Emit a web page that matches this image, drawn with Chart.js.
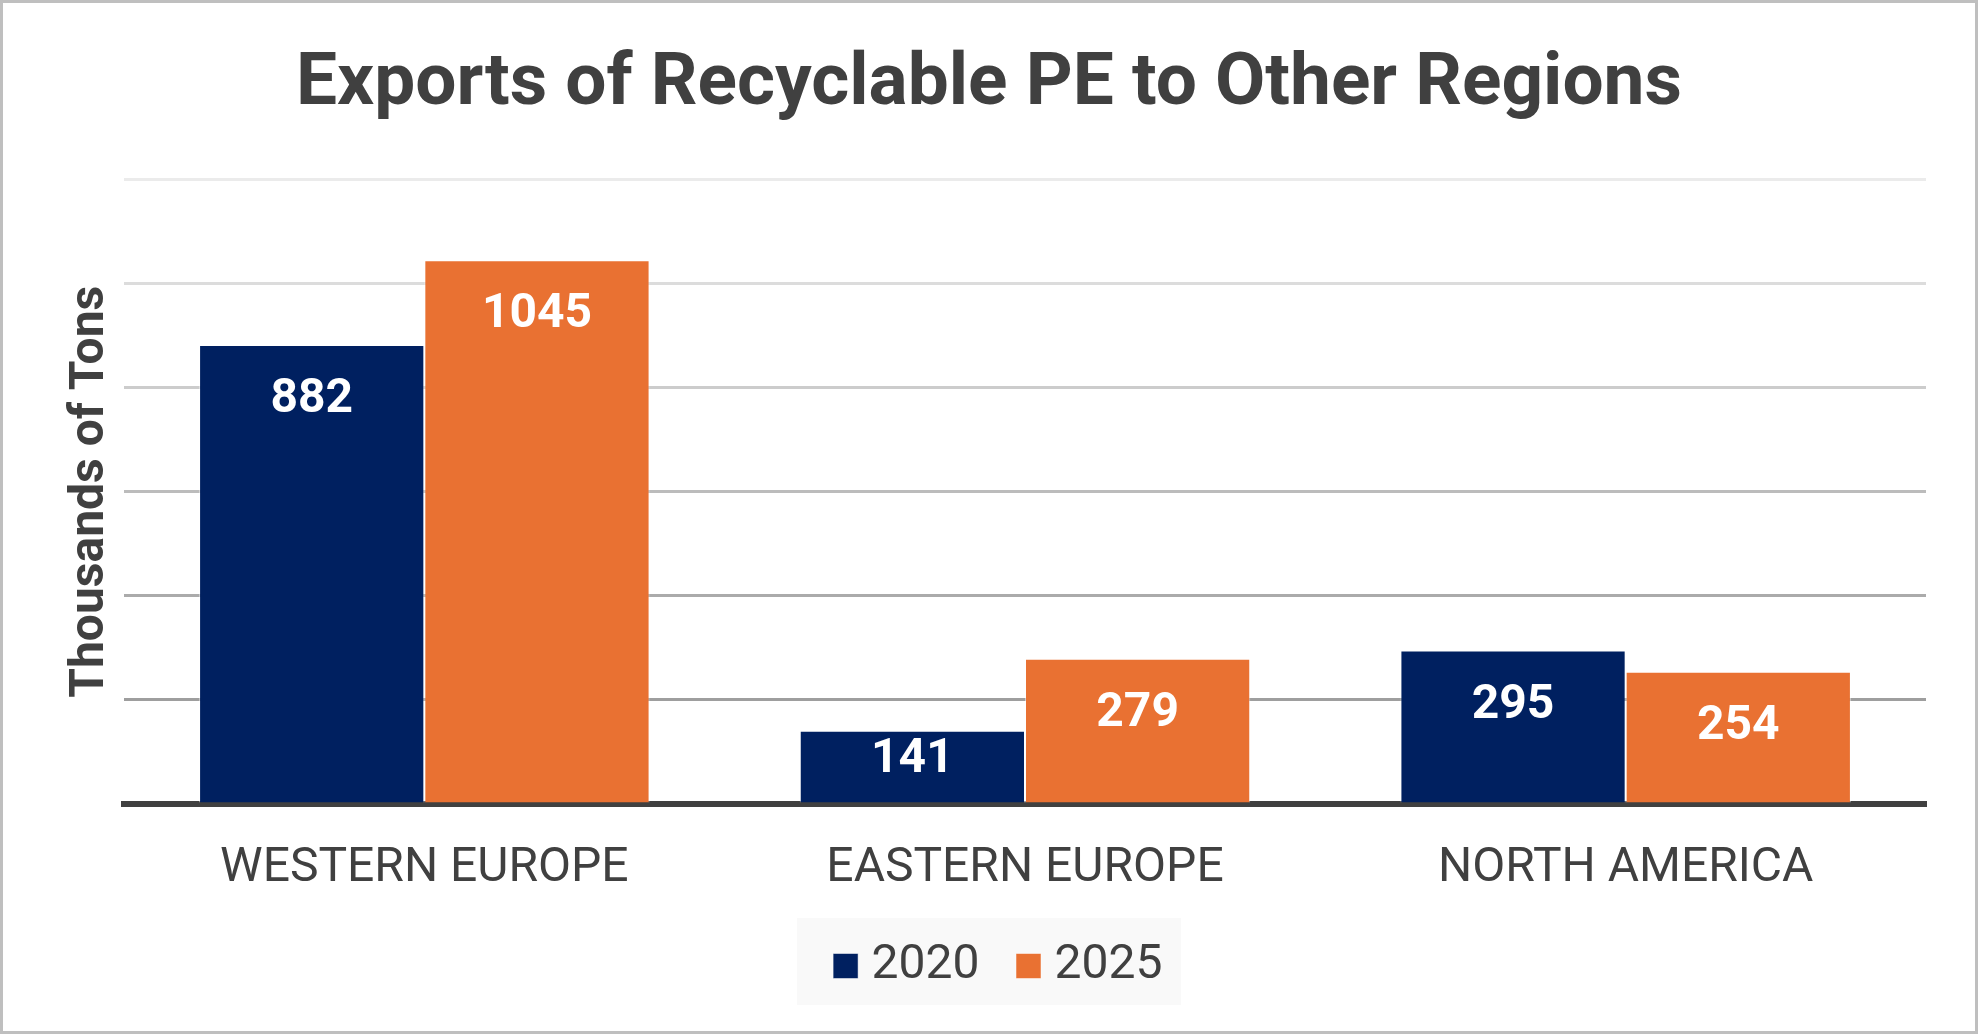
<!DOCTYPE html>
<html>
<head>
<meta charset="utf-8">
<script src="https://cdn.jsdelivr.net/npm/chart.js@4.4.0/dist/chart.umd.min.js"></script>
<style>
  html, body { margin: 0; padding: 0; background: #fff; }
  #wrap { width: 1978px; height: 1034px; position: relative; }
</style>
</head>
<body>
<div id="wrap"><canvas id="myChart"></canvas></div>
<script>
const regions = ['WESTERN EUROPE', 'EASTERN EUROPE', 'NORTH AMERICA'];
const years = ['2020', '2025'];
const exports2020 = [882, 141, 295];
const exports2025 = [1045, 279, 254];
const yTicks = [0, 200, 400, 600, 800, 1000, 1200];

// gridlines get darker towards the bottom, like the original
const gridColors = ['#9e9e9e', '#9e9e9e', '#ababab', '#bcbcbc', '#cccccc', '#dcdcdc', '#ebebeb'];

const ctx = document.getElementById('myChart');

const frame = {
  id: 'frame',
  afterLayout(chart) {
    // the legend entries sit a little right of centre in the original
    const lg = chart.legend;
    if (lg) { lg.left += 14; lg.right += 14; }
  },
  beforeDraw(chart) {
    const c = chart.ctx;
    c.save();
    c.fillStyle = '#fff';
    c.fillRect(0, 0, chart.width, chart.height);
    // legend background, centred on the page
    const lg = chart.legend;
    if (lg && lg.legendHitBoxes.length) {
      const first = lg.legendHitBoxes[0];
      const mid = chart.width / 2;
      c.fillStyle = '#f9f9f9';
      c.fillRect(mid - 192, first.top - 24, 384, 87);
    }
    c.strokeStyle = '#bfbfbf';
    c.lineWidth = 3;
    c.strokeRect(1.5, 1.5, chart.width - 3, chart.height - 3);
    c.restore();
  }
};

const barLabels = {
  id: 'barLabels',
  afterDatasetsDraw(chart) {
    const c = chart.ctx;
    c.save();
    c.fillStyle = '#ffffff';
    c.font = 'bold 48px Roboto';
    c.textAlign = 'center';
    c.textBaseline = 'middle';
    chart.data.datasets.forEach((ds, i) => {
      chart.getDatasetMeta(i).data.forEach((bar, j) => {
        const h = bar.base - bar.y;
        const off = Math.min(55, h / 2 - 7);
        c.fillText(ds.data[j], bar.x, bar.y + off);
      });
    });
    c.restore();
  }
};

new Chart(ctx, {
  type: 'bar',
  data: {
    labels: regions,
    datasets: [
      {
        label: years[0],
        data: exports2020,
        backgroundColor: '#002060',
        borderColor: 'rgba(255,255,255,0.5)',
        borderWidth: 1
      },
      {
        label: years[1],
        data: exports2025,
        backgroundColor: '#E97132',
        borderColor: 'rgba(255,255,255,0.5)',
        borderWidth: 1
      }
    ]
  },
  options: {
    responsive: true,
    maintainAspectRatio: false,
    animation: false,
    layout: { padding: { left: 0, right: 0, top: 0, bottom: 34 } },
    datasets: {
      bar: { categoryPercentage: 0.75, barPercentage: 1.0 }
    },
    plugins: {
      title: {
        display: true,
        text: 'Exports of Recyclable PE to Other Regions',
        color: '#404040',
        font: { family: 'Roboto', size: 73, weight: 'bold' },
        padding: { top: 42, bottom: 50 }
      },
      legend: {
        display: true,
        position: 'bottom',
        labels: {
          color: '#404040',
          font: { family: 'Roboto', size: 48 },
          // narrow box slot + square point style keeps the text close to the swatch
          usePointStyle: true,
          pointStyle: 'rect',
          boxWidth: 4,
          boxHeight: 25,
          padding: 47
        }
      },
      tooltip: { enabled: false }
    },
    scales: {
      x: {
        z: 1,
        grid: { display: false, drawTicks: false },
        border: { display: true, color: '#404040', width: 6 },
        ticks: {
          color: '#404040',
          font: { family: 'Roboto', size: 48 },
          padding: 36
        },
        afterFit(scale) {
          scale.height = 91;
        }
      },
      y: {
        min: yTicks[0],
        max: yTicks[yTicks.length - 1],
        afterBuildTicks(scale) {
          scale.ticks = yTicks.map(v => ({ value: v }));
        },
        afterFit(scale) {
          scale.width = 124;
        },
        ticks: { display: false },
        grid: {
          drawTicks: false,
          lineWidth: 3,
          color: c => gridColors[c.index]
        },
        border: { display: false },
        title: {
          display: true,
          text: 'Thousands of Tons',
          color: '#404040',
          font: { family: 'Roboto', size: 48, weight: 'bold' },
          padding: { top: 62, bottom: 0 }
        }
      },
      // empty right-hand margin so the title and legend stay centred on the page
      yRight: {
        position: 'right',
        display: true,
        grid: { display: false, drawTicks: false },
        ticks: { display: false },
        border: { display: false },
        afterFit(scale) {
          scale.width = 52;
        }
      }
    }
  },
  plugins: [frame, barLabels]
});
</script>
</body>
</html>
